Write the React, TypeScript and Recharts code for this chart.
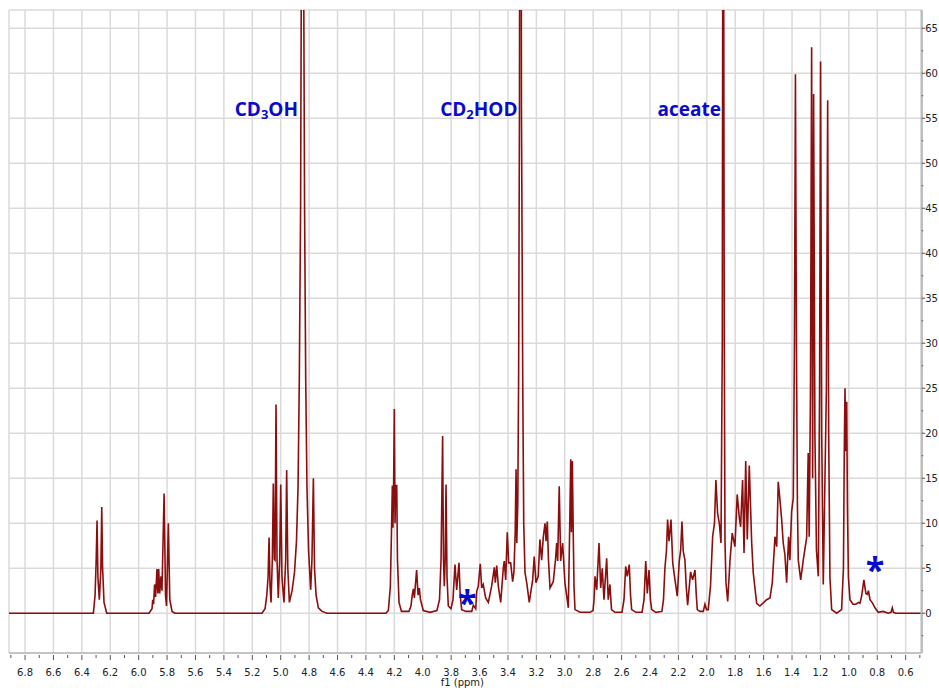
import React from "react";
import { LineChart, Line, XAxis, YAxis, ReferenceLine, ReferenceDot, Label } from "recharts";

// Chemical shift (ppm) and intensity
const shiftPpm = [
  6.913, 6.319, 6.307, 6.299, 6.293, 6.287, 6.277, 6.266, 6.26, 6.254, 6.244, 6.225,
  5.927, 5.906, 5.901, 5.895, 5.888, 5.881, 5.871, 5.865, 5.859, 5.852, 5.843, 5.836, 5.821, 5.811, 5.804, 5.791, 5.781, 5.765, 5.744,
  5.132, 5.11, 5.098, 5.089, 5.082, 5.075, 5.068, 5.059, 5.052, 5.045, 5.04, 5.033, 5.026, 5.017, 5.007, 5.0, 4.991, 4.977, 4.965, 4.958, 4.95, 4.939,
  4.92, 4.903, 4.889, 4.878, 4.869, 4.86, 4.855, 4.846, 4.838, 4.832, 4.824, 4.815, 4.804, 4.789, 4.78, 4.77, 4.762, 4.751, 4.735, 4.709, 4.674,
  4.259, 4.242, 4.228, 4.22, 4.214, 4.21, 4.205, 4.2, 4.195, 4.19, 4.183, 4.178, 4.167, 4.15,
  4.097, 4.083, 4.074, 4.066, 4.059, 4.043, 4.033, 4.024, 4.016, 3.996, 3.949, 3.9,
  3.882, 3.871, 3.86, 3.854, 3.848, 3.842, 3.836, 3.829, 3.82, 3.801,
  3.787, 3.773, 3.761, 3.745, 3.736, 3.726, 3.695, 3.655, 3.644, 3.627,
  3.62, 3.609, 3.595, 3.585, 3.574, 3.557, 3.538, 3.515, 3.496, 3.489, 3.479, 3.468, 3.451, 3.433, 3.426, 3.416, 3.405, 3.395, 3.381, 3.367, 3.358, 3.349, 3.343, 3.338, 3.331,
  3.325, 3.319, 3.312, 3.305, 3.296, 3.289, 3.28, 3.268, 3.25, 3.226, 3.215, 3.203, 3.187, 3.175, 3.163, 3.151, 3.139, 3.132, 3.123, 3.115, 3.104,
  3.081, 3.065, 3.057, 3.05, 3.039, 3.029, 3.015, 2.999, 2.975, 2.967, 2.958, 2.953, 2.947, 2.94, 2.935, 2.928, 2.893, 2.822, 2.801,
  2.794, 2.787, 2.775, 2.759, 2.747, 2.736, 2.724, 2.705, 2.694, 2.682, 2.671, 2.647, 2.597,
  2.583, 2.571, 2.56, 2.546, 2.537, 2.529, 2.499, 2.456, 2.442, 2.43, 2.419, 2.407, 2.397, 2.388, 2.358, 2.316,
  2.305, 2.295, 2.284, 2.276, 2.266, 2.252, 2.24, 2.224, 2.208, 2.194, 2.184, 2.175, 2.166, 2.154, 2.145, 2.135, 2.114, 2.1, 2.083, 2.074, 2.067, 2.048, 2.025, 2.013, 2.002, 1.99,
  1.974, 1.959, 1.946, 1.936, 1.924, 1.912, 1.9, 1.891, 1.888, 1.884, 1.881, 1.877, 1.872, 1.865, 1.853,
  1.837, 1.821, 1.802, 1.786, 1.771, 1.762, 1.748, 1.738, 1.726, 1.715, 1.701, 1.684, 1.673, 1.649, 1.626, 1.579, 1.555,
  1.539, 1.52, 1.508, 1.497, 1.485, 1.473, 1.462, 1.45, 1.438, 1.424, 1.415, 1.403, 1.391, 1.383, 1.376, 1.369, 1.362, 1.356, 1.339, 1.321, 1.297, 1.286, 1.279,
  1.27, 1.262, 1.255, 1.248, 1.239, 1.228, 1.215, 1.206, 1.199, 1.191, 1.18, 1.158, 1.149, 1.142, 1.133, 1.121, 1.086, 1.051,
  1.038, 1.032, 1.027, 1.022, 1.015, 1.01, 1.003, 0.992, 0.971, 0.95, 0.932, 0.922, 0.91, 0.894, 0.88, 0.87, 0.862, 0.851, 0.832, 0.816, 0.793, 0.758, 0.723, 0.703, 0.694, 0.686, 0.668, 0.487,
];
const intensity = [
  0, 0, 2, 6, 10.3, 4, 1.5, 5, 11.8, 5, 1.2, 0,
  0, 0.5, 1.5, 1.0, 3.2, 1.8, 4.9, 2.2, 4.9, 2.2, 4.1, 2.5, 13.3, 2, 0.8, 10.0, 1.5, 0.2, 0,
  0, 0.5, 2, 4, 8.4, 3, 1.2, 6, 14.4, 6, 5.9, 23.2, 6, 1.7, 6, 14.3, 4, 1.2, 6, 15.9, 5, 1.2,
  2.5, 4.5, 8, 14, 26, 45, 70, 150, 70, 45, 26, 14, 7, 2.6, 6, 15.0, 5, 2, 0.6, 0.2, 0,
  0, 0.3, 3, 9, 14.2, 9.5, 14.2, 22.7, 10, 14.2, 14.2, 6, 1.2, 0.2,
  0.2, 0.8, 2.0, 2.7, 1.7, 4.8, 2.0, 2.8, 1.5, 0.3, 0.1, 0.3,
  1.5, 6, 19.7, 6, 3.0, 6, 14.3, 4, 0.8, 0.5,
  1.5, 5.4, 2.6, 5.6, 2.0, 0.4, 0.2, 0.2, 0.9, 0.5,
  2.4, 3.0, 5.5, 2.8, 3.2, 1.7, 1.2, 3.0, 5.1, 3.4, 5.3, 3.0, 1.2, 5.0, 5.8, 3.7, 9.0, 5.6, 5.6, 3.5, 4.6, 9, 16.0, 7.8, 12,
  26, 56, 150, 56, 26, 10, 4.5, 3.4, 1.2, 3.7, 6.3, 3.4, 4.1, 8.2, 5.9, 8.5, 10.0, 8, 10.2, 6, 2.8,
  3.5, 6, 7.8, 5.8, 14.1, 5.8, 7.8, 3.4, 0.6, 8, 17.1, 9, 16.9, 8.5, 3, 0.4, 0.1, 0.1, 0.3,
  1.5, 4.1, 2.6, 7.8, 2.8, 5.0, 1.5, 6.1, 1.5, 3.2, 0.4, 0.1, 0.1,
  1.5, 5.2, 4.1, 5.4, 2, 0.4, 0.1, 0.1, 1.5, 5.8, 2.2, 4.8, 1.5, 0.4, 0.1, 0.2,
  1.5, 5.0, 7, 10.4, 8.0, 10.4, 5.6, 3.7, 1.9, 5.8, 7, 10.2, 6.9, 5.9, 3, 0.9, 4.6, 3.7, 4.8, 2, 0.4, 0.2, 0.2, 1.0, 0.4, 0.4,
  3, 8.5, 10, 14.8, 11.1, 10.0, 7.8, 30, 70, 150, 70, 30, 8, 3.4, 1.3,
  5.8, 8.9, 7.4, 13.2, 10.6, 9.6, 14.8, 6.7, 16.9, 8.2, 16.4, 7.8, 4.5, 1.1, 0.8, 1.5, 1.7,
  3.4, 8.5, 7.4, 14.6, 12.6, 10.4, 7.8, 6.5, 3.4, 8.5, 5.9, 11.3, 12.8, 30, 59.9, 30, 12, 5.9, 3.7, 5.9, 8.4, 17.8, 8.5,
  25, 62.9, 15, 57.7, 20, 7, 4.1, 25, 61.3, 20, 3.2, 25, 57.0, 20, 4, 0.4, 0, 0.4,
  5, 18, 25.0, 18, 23.5, 12, 4, 1.5, 1.0, 1.0, 1.2, 1.1, 1.9, 3.7, 2.2, 2.1, 2.5, 1.5, 1.1, 0.6, 0.1, 0.2, 0, 0.1, 0.6, 0.1, 0, 0,
];

const xMajorTicks = [6.8, 6.6, 6.4, 6.2, 6.0, 5.8, 5.6, 5.4, 5.2, 5.0, 4.8, 4.6, 4.4, 4.2, 4.0, 3.8, 3.6, 3.4, 3.2, 3.0, 2.8, 2.6, 2.4, 2.2, 2.0, 1.8, 1.6, 1.4, 1.2, 1.0, 0.8, 0.6];
const xMinorTicks = [6.9, 6.7, 6.5, 6.3, 6.1, 5.9, 5.7, 5.5, 5.3, 5.1, 4.9, 4.7, 4.5, 4.3, 4.1, 3.9, 3.7, 3.5, 3.3, 3.1, 2.9, 2.7, 2.5, 2.3, 2.1, 1.9, 1.7, 1.5, 1.3, 1.1, 0.9, 0.7, 0.5];
const yMajorTicks = [0, 5, 10, 15, 20, 25, 30, 35, 40, 45, 50, 55, 60, 65];
const yMinorTicks = [-2.5, 2.5, 7.5, 12.5, 17.5, 22.5, 27.5, 32.5, 37.5, 42.5, 47.5, 52.5, 57.5, 62.5];

const xDomain = [0.487, 6.913];
const yDomain = [-4.42, 67.03];

const annotationLabels = [
  { pre: "CD", sub: "3", post: "OH", ppm: 4.878, value: 55.3 },
  { pre: "CD", sub: "2", post: "HOD", ppm: 3.333, value: 55.3 },
  { pre: "aceate", sub: "", post: "", ppm: 1.9, value: 55.3 },
];
const asteriskMarks = [
  { ppm: 3.687, value: 1.87 },
  { ppm: 0.816, value: 5.61 },
];

const spectrum = shiftPpm.map((ppm, i) => ({ ppm, value: intensity[i] }));

const isIn = (arr: number[], v: number) => arr.some((t) => Math.abs(t - v) < 1e-6);

const XTick = (props: any) => {
  const { x, y, payload } = props;
  const v = payload.value as number;
  const major = isIn(xMajorTicks, v);
  return (
    <g>
      <line x1={x} x2={x} y1={y + 2} y2={y + (major ? 7 : 5)} stroke="#555" strokeWidth={1} />
      {major && (
        <text x={x} y={y + 22.5} textAnchor="middle" fontFamily="DejaVu Sans" fontSize={10} fill="#222">
          {v.toFixed(1)}
        </text>
      )}
    </g>
  );
};

const YTick = (props: any) => {
  const { x, y, payload } = props;
  const v = payload.value as number;
  const major = isIn(yMajorTicks, v);
  return (
    <g>
      <line x1={x} x2={x + (major ? 3.5 : 1.5)} y1={y} y2={y} stroke="#555" strokeWidth={1} />
      {major && (
        <text x={x + 3.5} y={y + 3.6} textAnchor="start" fontFamily="DejaVu Sans" fontSize={10} fill="#222">
          {String(v)}
        </text>
      )}
    </g>
  );
};

const gridStroke = "#dadada";

export default function App() {
  const xTicks = [...xMajorTicks, ...xMinorTicks].sort((a, b) => b - a);
  const yTicks = [...yMajorTicks, ...yMinorTicks].sort((a, b) => a - b);
  return (
    <div style={{ position: "absolute", left: 0, top: 0, background: "#fff" }}>
      <LineChart width={939} height={688} data={spectrum} margin={{ top: 10, right: 0, bottom: 0, left: 9 }}>
        <XAxis
          dataKey="ppm"
          type="number"
          domain={xDomain}
          reversed
          allowDataOverflow
          ticks={xTicks}
          interval={0}
          tick={XTick}
          tickLine={false}
          tickSize={0}
          tickMargin={0}
          height={35}
          axisLine={{ stroke: "#c4c4c4", strokeWidth: 2 }}
        >
          <Label
            content={(p: any) => {
              const vb = p.viewBox || {};
              return (
                <text x={vb.x + vb.width / 2 - 3} y={vb.y + 32.5} textAnchor="middle" fontFamily="DejaVu Sans" fontSize={10} fill="#222">
                  f1 (ppm)
                </text>
              );
            }}
          />
        </XAxis>
        <YAxis
          orientation="right"
          type="number"
          domain={yDomain}
          allowDataOverflow
          ticks={yTicks}
          interval={0}
          tick={YTick}
          tickLine={false}
          tickSize={0}
          tickMargin={0}
          width={17.3}
          axisLine={{ stroke: "#bdbdbd", strokeWidth: 2.5 }}
        />
        {xMajorTicks.map((t) => (
          <ReferenceLine key={"vx" + t} x={t} stroke={gridStroke} strokeWidth={1.5} ifOverflow="visible" />
        ))}
        {yMajorTicks.map((t) => (
          <ReferenceLine key={"hy" + t} y={t} stroke={gridStroke} strokeWidth={1.5} ifOverflow="visible" />
        ))}
        <ReferenceLine x={xDomain[1]} stroke={gridStroke} strokeWidth={1.5} ifOverflow="visible" />
        <ReferenceLine y={yDomain[1]} stroke={gridStroke} strokeWidth={1.5} ifOverflow="visible" />
        <Line
          type="linear"
          dataKey="value"
          stroke="#8b0d0d"
          strokeWidth={1.6}
          dot={false}
          isAnimationActive={false}
        />
        {annotationLabels.map((a) => (
          <ReferenceDot
            key={a.pre + a.sub + a.post}
            x={a.ppm}
            y={a.value}
            r={0}
            ifOverflow="visible"
            shape={(p: any) => (
              <text x={p.cx} y={p.cy} textAnchor="end" fontFamily="Open Sans" fontWeight={700} fontSize={19} fill="#0a0acc">
                <tspan>{a.pre}</tspan>
                {a.sub && (
                  <tspan dy={3.5} fontSize={13}>
                    {a.sub}
                  </tspan>
                )}
                {a.post && <tspan dy={a.sub ? -3.5 : 0}>{a.post}</tspan>}
              </text>
            )}
          />
        ))}
        {asteriskMarks.map((m) => (
          <ReferenceDot
            key={"ast" + m.ppm}
            x={m.ppm}
            y={m.value}
            r={0}
            ifOverflow="visible"
            shape={(p: any) => (
              <text x={p.cx} y={p.cy + 19} textAnchor="middle" fontFamily="Open Sans" fontWeight={700} fontSize={34} fill="#0a0acc">
                *
              </text>
            )}
          />
        ))}
      </LineChart>
    </div>
  );
}
